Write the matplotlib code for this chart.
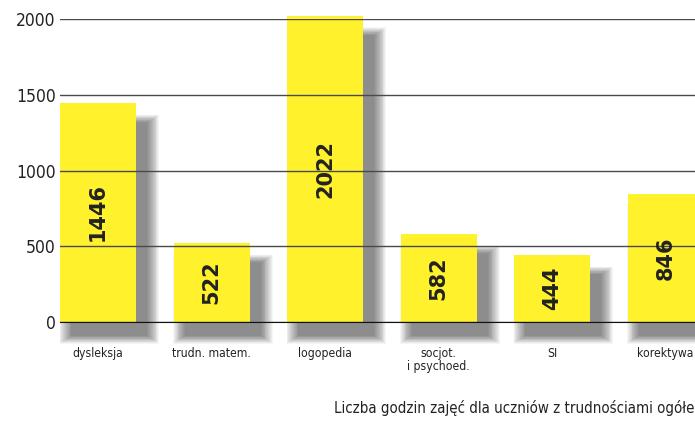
import matplotlib.pyplot as plt
from matplotlib.patches import Rectangle

# data
categories = ['dysleksja', 'trudn. matem.', 'logopedia', 'socjot.\ni psychoed.', 'SI', 'korektywa']
hours = [1446, 522, 2022, 582, 444, 846]
yticks = [0, 500, 1000, 1500, 2000]
caption = 'Liczba godzin zajęć dla uczniów z trudnościami ogółem'

plt.rcParams['font.family'] = ['DejaVu Sans']
plt.rcParams['font.stretch'] = 'condensed'

fig = plt.figure(figsize=(6.95, 4.22), dpi=100)
ax = fig.add_axes([60 / 695, 100 / 422, 1 - 60 / 695, 303 / 422])

w = 0.67
yellow = '#fff12c'
x = list(range(len(hours)))

# soft shadow: stack of translucent rectangles
for i, h in zip(x, hours):
    for k in range(14):
        grow = 0.008 * k
        ax.add_patch(Rectangle((i - w / 2 + 0.1 - grow, -90 - grow * 500),
                               w + 2 * grow, h + grow * 1000 - 40,
                               color='black', alpha=0.04, lw=0,
                               zorder=1, clip_on=False))

ax.bar(x, hours, width=w, color=yellow, zorder=2, clip_on=False)

for i, h in zip(x, hours):
    ax.text(i, h / 2, str(h), rotation=90, ha='center', va='center',
            fontsize=15, fontweight='bold', color='#222222',
            fontstretch='normal', zorder=4)

ax.set_xlim(-w / 2, -w / 2 + 635 / 113.5)
ax.set_ylim(0, 2000)
ax.set_yticks(yticks)
ax.yaxis.grid(True, color='#4a4a4a', lw=1.0)
ax.set_axisbelow(False)
for g in ax.get_ygridlines():
    g.set_zorder(3)
ax.set_xticks(x)
ax.set_xticklabels(categories, fontsize=8.7, color='#222222', linespacing=1.0)
ax.tick_params(axis='x', length=0, pad=18)
ax.tick_params(axis='y', length=0, pad=3, labelsize=12.5, labelcolor='#222222')
for s in ['top', 'right', 'left']:
    ax.spines[s].set_visible(False)
ax.spines['bottom'].set_color('#111111')
ax.spines['bottom'].set_zorder(5)
ax.patch.set_alpha(0)

fig.text(334 / 695, 1 - 408 / 422, caption, fontsize=10.8, color='#222222',
         ha='left', va='center')

fig.savefig('out.png', dpi=100)
